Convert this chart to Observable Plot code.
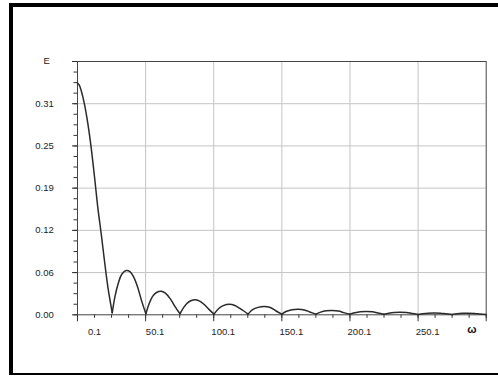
<!DOCTYPE html>
<html>
<head>
<meta charset="utf-8">
<script src="https://cdn.jsdelivr.net/npm/d3@7"></script>
<script src="https://cdn.jsdelivr.net/npm/@observablehq/plot@0.6"></script>
<style>
  html, body { margin: 0; padding: 0; background: #fff; }
  #wrap { position: relative; width: 498px; height: 376px; overflow: hidden; }
  #border { position: absolute; left: 9px; top: 3px; width: 489px; height: 372px;
    box-sizing: border-box; border-top: 4px solid #000; border-left: 4px solid #000;
    border-bottom: 2px solid #000; pointer-events: none; }
</style>
</head>
<body>
<div id="wrap"><div id="border"></div></div>
<script>
// Curve samples
const omega = [0, 1.3, 2.7, 5.1, 7.6, 10, 12.5, 14.9, 17.4, 19.8, 22.3, 25.5,
  27.5, 30, 32.5, 35.7, 38.5, 41, 44, 47, 50.2,
  52.5, 55, 58, 61.3, 64.5, 68, 71.5, 75.2,
  78, 81, 84, 86.5, 90, 93, 96.5, 100.2,
  103.5, 107, 111.4, 115.5, 119.5, 125.2,
  128.5, 132.5, 137, 141.5, 145.5, 150,
  153.5, 157.5, 162, 166.5, 170.5, 175,
  178.5, 182.5, 187, 191.5, 195.5, 200,
  203.5, 207.5, 212, 216.5, 220.5, 225,
  228.5, 232.5, 237, 241.5, 245.5, 250,
  253.5, 257.5, 262, 266.5, 270.5, 275,
  278.5, 282.5, 287, 291.5, 295.5, 300];
const E = [0.343, 0.34, 0.332, 0.312, 0.283, 0.248, 0.204, 0.159, 0.120, 0.080, 0.041, 0.003,
  0.027, 0.047, 0.06, 0.0656, 0.064, 0.057, 0.042, 0.021, 0.0015,
  0.016, 0.027, 0.033, 0.035, 0.032, 0.024, 0.0125, 0.0015,
  0.011, 0.018, 0.0215, 0.0222, 0.02, 0.0152, 0.008, 0.001,
  0.009, 0.0135, 0.0155, 0.0138, 0.009, 0.001,
  0.0075, 0.011, 0.0123, 0.0108, 0.006, 0.001,
  0.0052, 0.0076, 0.0083, 0.0072, 0.0042, 0.001,
  0.004, 0.0059, 0.0064, 0.0056, 0.0032, 0.0008,
  0.003, 0.0046, 0.005, 0.0045, 0.0026, 0.0008,
  0.0024, 0.0035, 0.0038, 0.0034, 0.002, 0.0006,
  0.0017, 0.0024, 0.0026, 0.0023, 0.0014, 0.0005,
  0.0015, 0.0022, 0.0024, 0.0021, 0.0012, 0.0003];

const yTicks = [0, 0.0625, 0.125, 0.1875, 0.25, 0.3125, 0.375];
const yLabels = ["0.00", "0.06", "0.12", "0.19", "0.25", "0.31"];
const yMinor = d3.range(0, 0.375001, 0.015625);
const xTicks = [0, 50, 100, 150, 200, 250, 300];
const xLabels = ["0.1", "50.1", "100.1", "150.1", "200.1", "250.1"];
const xMinor = d3.range(0, 300.001, 12.5);

// split the curve into lobes at its local minima (minimum shared by both lobes)
const data = [];
let lobe = 0;
for (let i = 0; i < omega.length; i++) {
  data.push({w: omega[i], e: E[i], lobe});
  if (i > 0 && i < omega.length - 1 && E[i] < E[i - 1] && E[i] < E[i + 1]) {
    lobe++;
    data.push({w: omega[i], e: E[i], lobe});
  }
}
const font = "'Liberation Sans', Arial, Helvetica, sans-serif";

const chart = Plot.plot({
  width: 498, height: 376,
  marginLeft: 77, marginRight: 12.3, marginTop: 61, marginBottom: 61.7,
  x: {domain: [0, 300], axis: null},
  y: {domain: [0, 0.375], axis: null},
  style: {fontFamily: font, fontSize: "9.5px", background: "#fff", color: "#222"},
  marks: [
    Plot.gridX(xTicks.slice(1, -1), {stroke: "#c4c4c4", strokeOpacity: 1}),
    Plot.gridY(yTicks.slice(1, -1), {stroke: "#c4c4c4", strokeOpacity: 1}),
    Plot.axisY({ticks: yMinor, tickSize: 3.5, tickFormat: () => "", label: null, anchor: "left", stroke: "#333"}),
    Plot.axisY({ticks: yTicks, tickSize: 5, tickFormat: () => "", label: null, anchor: "left", stroke: "#333"}),
    Plot.axisX({ticks: xMinor, tickSize: 3.5, tickFormat: () => "", label: null, anchor: "bottom", stroke: "#333"}),
    Plot.axisX({ticks: xTicks, tickSize: 7, tickFormat: () => "", label: null, anchor: "bottom", stroke: "#333"}),
    Plot.frame({stroke: "#444"}),
    Plot.line(data, {x: "w", y: "e", z: "lobe", curve: "catmull-rom", stroke: "#2a2a2a", strokeWidth: 1.5}),
    Plot.text(yLabels, {y: (d, i) => yTicks[i], frameAnchor: "left", textAnchor: "end", dx: -23.7, fill: "#222"}),
    Plot.text(xLabels.slice(0, 1), {x: (d, i) => xTicks[i], frameAnchor: "bottom", lineAnchor: "middle", dy: 17.5, dx: 17, fill: "#222"}),
    Plot.text(xLabels.slice(1), {x: (d, i) => xTicks[i + 1], frameAnchor: "bottom", lineAnchor: "middle", dy: 17.5, dx: 9.5, fill: "#222"}),
    Plot.text(["E"], {frameAnchor: "top-left", lineAnchor: "middle", dx: -34, dy: -1, fill: "#222"}),
    Plot.text(["ω"], {frameAnchor: "bottom-right", lineAnchor: "middle", dx: -9.7, dy: 15, fontWeight: "bold", fontSize: 11, fill: "#111"})
  ]
});
document.getElementById("wrap").insertBefore(chart, document.getElementById("border"));
</script>
</body>
</html>
